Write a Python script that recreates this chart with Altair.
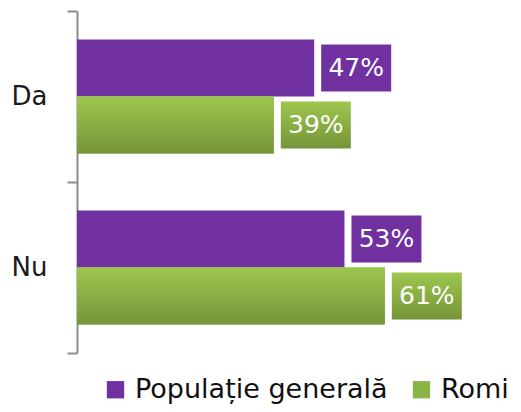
import altair as alt
import pandas as pd

categories = ["Da", "Da", "Nu", "Nu"]
series = ["Populație generală", "Romi", "Populație generală", "Romi"]
values = [47, 39, 53, 61]
labels = ["47%", "39%", "53%", "61%"]

series_order = ["Populație generală", "Romi"]
purple = "#7030A0"
green_flat = "#8AB446"

df = pd.DataFrame({"cat": categories, "series": series, "value": values, "label": labels})

green_grad = alt.Gradient(
    gradient="linear",
    stops=[alt.GradientStop(color="#9DC64E", offset=0), alt.GradientStop(color="#76953A", offset=1)],
    x1=0, x2=0, y1=0, y2=1,
)

FONT = "DejaVu Sans"

x = alt.X("value:Q", scale=alt.Scale(domain=[0, 86], nice=False), axis=None)
y = alt.Y(
    "cat:N",
    scale=alt.Scale(paddingInner=0, paddingOuter=0),
    axis=alt.Axis(
        title=None,
        domainColor="#8c8c8c",
        domainWidth=2,
        tickColor="#8c8c8c",
        tickWidth=2,
        tickSize=10,
        tickBand="extent",
        labelFont=FONT,
        labelFontSize=26,
        labelColor="#1a1a1a",
        labelPadding=20,
        grid=False,
    ),
)
yoff = alt.YOffset("series:N", scale=alt.Scale(domain=series_order, paddingInner=0, paddingOuter=0.5))

color = alt.Color(
    "series:N",
    scale=alt.Scale(domain=series_order, range=[purple, green_flat]),
    legend=alt.Legend(
        title=None,
        orient="none",
        direction="horizontal",
        legendX=25,
        legendY=365,
        symbolType="square",
        symbolSize=300,
        symbolStrokeWidth=0,
        symbolOpacity=1,
        labelFont=FONT,
        labelFontSize=27,
        labelColor="#111111",
        labelLimit=400,
        columnPadding=20,
        labelOffset=6,
    ),
)

base = alt.Chart(df).encode(y=y, yOffset=yoff)

bars = base.mark_bar(cornerRadius=0).encode(x=x, color=color)

green_bars = base.transform_filter(alt.datum.series == "Romi").mark_bar(fill=green_grad).encode(x=x)

boxes_p = base.transform_filter(alt.datum.series == "Populație generală").mark_bar(
    fill=purple, height=47, xOffset=7, x2Offset=77
).encode(x=x, x2="value:Q")

boxes_g = base.transform_filter(alt.datum.series == "Romi").mark_bar(
    fill=green_grad, height=47, xOffset=7, x2Offset=77
).encode(x=x, x2="value:Q")

texts = base.mark_text(
    color="white", font=FONT, fontSize=25, dx=42, align="center", baseline="middle"
).encode(x=x, text="label:N")

chart = alt.layer(bars, green_bars, boxes_p, boxes_g, texts).properties(
    width=434,
    height=342,
    autosize=alt.AutoSizeParams(type="none"),
    padding={"left": 69, "top": 3, "right": 0, "bottom": 51},
).configure_view(stroke=None)

chart.save("out.html", embed_options={"renderer": "svg", "actions": False})
